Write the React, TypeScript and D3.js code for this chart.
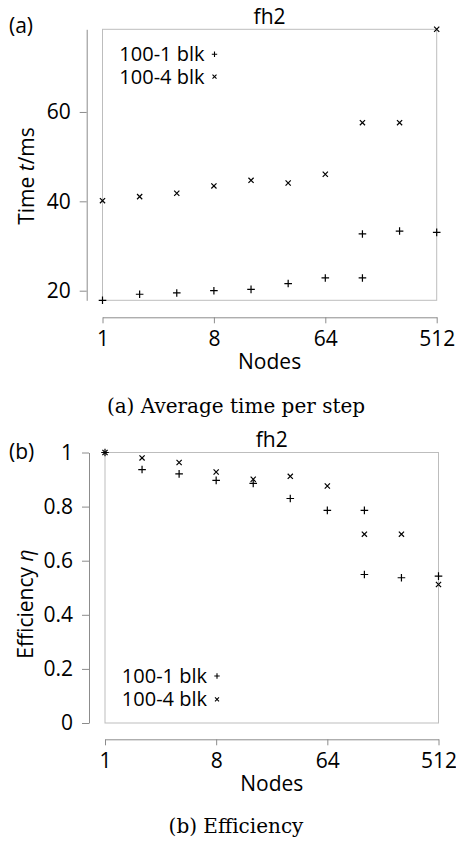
import React, { useEffect, useRef } from 'react'
import * as d3 from 'd3'

// node counts (100-1 has two runs at 128)
const nodes1 = [1, 2, 4, 8, 16, 32, 64, 128, 128, 256, 512]
const nodes4 = [1, 2, 4, 8, 16, 32, 64, 128, 256, 512]

// average time per step, ms
const time1 = [17.85, 19.2, 19.5, 20.0, 20.3, 21.6, 22.85, 22.85, 32.7, 33.35, 33.05]
const time4 = [40.15, 41.05, 41.8, 43.45, 44.7, 44.1, 46.05, 57.6, 57.6, 78.5]

// efficiency
const eff1 = [1.0, 0.937, 0.921, 0.897, 0.886, 0.83, 0.786, 0.786, 0.549, 0.537, 0.543]
const eff4 = [1.0, 0.98, 0.963, 0.928, 0.901, 0.912, 0.876, 0.698, 0.698, 0.512]

const xTicks = [1, 8, 64, 512]
const timeTicks = [20, 40, 60]
const effTicks = [0, 0.2, 0.4, 0.6, 0.8, 1]
const seriesNames = ['100-1 blk', '100-4 blk']

const FONT = '"Open Sans", sans-serif'
const SERIF = '"DejaVu Serif", serif'
const FS = '21px'

const plus = (r: number) => `M${-r},0H${r}M0,${-r}V${r}`
const cross = (r: number) => `M${-r},${-r}L${r},${r}M${-r},${r}L${r},${-r}`

function drawPanel(svg: any, p: any) {
  let x = d3.scaleLog().base(2).domain([1, 512]).range([p.left, p.right])
  let y = d3.scaleLinear().domain(p.yDomain).range([p.bottom, p.top])

  // frame
  svg.append('rect')
    .attr('x', p.left).attr('y', p.top)
    .attr('width', p.right - p.left).attr('height', p.bottom - p.top)
    .style('fill', 'none').style('stroke', '#bdbdbd').style('stroke-width', 1)

  // y axis, offset left
  let ya = svg.append('g')
    .attr('transform', `translate(${p.yAxisX},0)`)
    .call(d3.axisLeft(y).tickValues(p.yTicks).tickFormat(p.yFormat).tickSize(7).tickSizeOuter(0).tickPadding(9))
  // x axis, offset down
  let xa = svg.append('g')
    .attr('transform', `translate(0,${p.xAxisY})`)
    .call(d3.axisBottom(x).tickValues(xTicks).tickFormat(d3.format('d')).tickSize(6).tickSizeOuter(0).tickPadding(8))
  for (let a of [ya, xa]) {
    a.select('.domain').style('stroke', '#8c8c8c')
    a.selectAll('.tick line').style('stroke', '#8c8c8c')
    a.selectAll('text').style('font-family', FONT).style('font-size', FS).style('fill', '#000')
  }

  // points
  let g = svg.append('g')
  g.selectAll('.p1').data(nodes1.map((n, i) => [n, p.s1[i]])).enter()
    .append('path')
    .attr('transform', (d: number[]) => `translate(${x(d[0])},${y(d[1])})`)
    .attr('d', plus(3.8))
    .style('stroke', '#000').style('stroke-width', 1.2).style('fill', 'none')
  g.selectAll('.p4').data(nodes4.map((n, i) => [n, p.s4[i]])).enter()
    .append('path')
    .attr('transform', (d: number[]) => `translate(${x(d[0])},${y(d[1])})`)
    .attr('d', cross(2.6))
    .style('stroke', '#000').style('stroke-width', 1.2).style('fill', 'none')

  // legend
  seriesNames.forEach((name, i) => {
    let ly = p.legendY[i]
    svg.append('text')
      .attr('x', p.left + 102).attr('y', ly).attr('dy', '0.35em')
      .attr('text-anchor', 'end')
      .style('font-family', FONT).style('font-size', '20px')
      .text(name)
    svg.append('path')
      .attr('transform', `translate(${p.left + 112},${ly})`)
      .attr('d', i === 0 ? plus(2.7) : cross(2))
      .style('stroke', '#000').style('stroke-width', 1.1).style('fill', 'none')
  })

  // title
  svg.append('text')
    .attr('x', (p.left + p.right) / 2).attr('y', p.top - 5.5)
    .attr('text-anchor', 'middle')
    .style('font-family', FONT).style('font-size', FS)
    .text('fh2')

  // panel tag
  svg.append('text')
    .attr('x', 9).attr('y', p.tagY)
    .style('font-family', FONT).style('font-size', FS)
    .text(p.tag)

  // axis titles
  svg.append('text')
    .attr('x', (p.left + p.right) / 2).attr('y', p.xAxisY + 52)
    .attr('text-anchor', 'middle')
    .style('font-family', FONT).style('font-size', FS)
    .text('Nodes')

  let yl = svg.append('text')
    .attr('transform', `translate(${p.yLabel[0]},${p.yLabel[1]}) rotate(-90)`)
    .attr('text-anchor', 'middle').attr('dy', '0.35em')
    .style('font-family', FONT).style('font-size', FS)
  yl.append('tspan').text(p.yTitle[0])
  yl.append('tspan').style('font-style', 'italic').text(p.yTitle[1])
  if (p.yTitle[2]) yl.append('tspan').text(p.yTitle[2])

  // caption
  svg.append('text')
    .attr('x', 236).attr('y', p.captionY)
    .attr('text-anchor', 'middle')
    .style('font-family', SERIF).style('font-size', '20px')
    .text(p.caption)
}

export default function App() {
  const ref = useRef<SVGSVGElement>(null)

  useEffect(() => {
    let svg = d3.select(ref.current)
    svg.selectAll('*').remove()

    drawPanel(svg, {
      left: 102.5, right: 436.7, top: 29.3, bottom: 300.3,
      yAxisX: 86.7, xAxisY: 317.3,
      yDomain: d3.extent([...time1, ...time4]),
      yTicks: timeTicks, yFormat: d3.format('d'),
      s1: time1, s4: time4,
      legendY: [54.3, 76.7],
      tag: '(a)', tagY: 33,
      yTitle: ['Time ', 't', '/ms'], yLabel: [27, 176],
      caption: '(a) Average time per step', captionY: 413,
    })

    drawPanel(svg, {
      left: 105, right: 438.5, top: 452.5, bottom: 723,
      yAxisX: 89, xAxisY: 739.3,
      yDomain: [0, 1],
      yTicks: effTicks, yFormat: d3.format('~g'),
      s1: eff1, s4: eff4,
      legendY: [676, 699.3],
      tag: '(b)', tagY: 459,
      yTitle: ['Efficiency ', 'η', ''], yLabel: [26, 604],
      caption: '(b) Efficiency', captionY: 833,
    })
  }, [])

  return (
    <svg
      ref={ref}
      width={456}
      height={844}
      style={{ position: 'absolute', left: 0, top: 0, background: '#fff' }}
    />
  )
}
